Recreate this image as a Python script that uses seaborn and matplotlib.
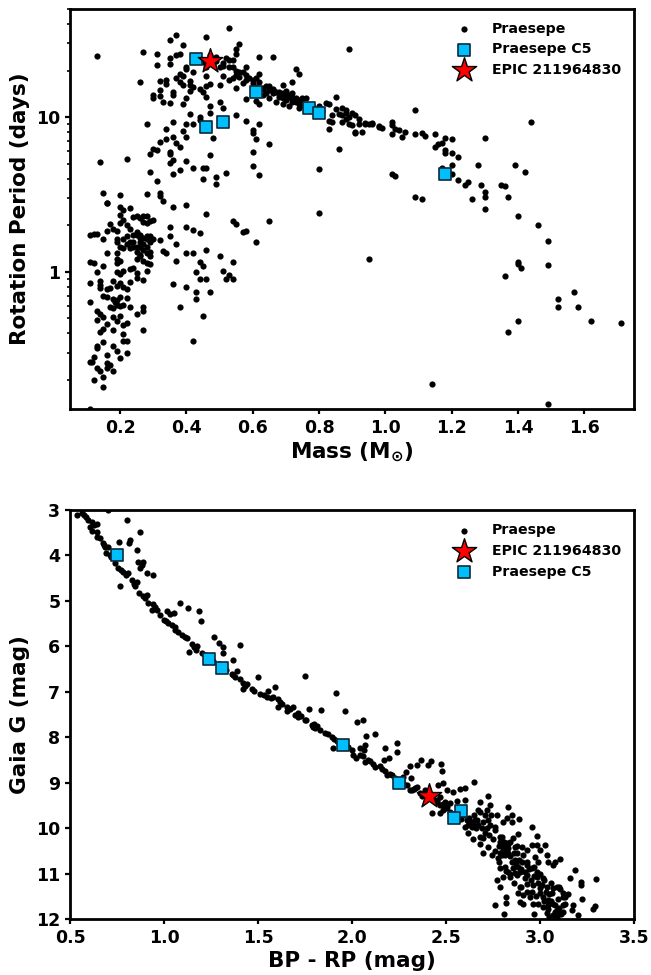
import numpy as np
import pandas as pd
import matplotlib
matplotlib.use("Agg")
import matplotlib.pyplot as plt
import seaborn as sns

# (mass in solar masses, log10 rotation period in days)
rot_low_mass = [
(.11,-.886),(.15,-.746),(.12,-.699),(.18,-.639),(.15,-.677),(.14,-.639),(.13,-.622),(.16,-.622),(.17,-.60),(.11,-.583),
(.12,-.553),(.115,-.585),(.16,-.589),(.16,-.538),(.13,-.493),(.13,-.478),(.15,-.456),(.18,-.482),(.19,-.508),(.20,-.555),
(.22,-.525),(.21,-.445),(.22,-.445),(.21,-.40),(.18,-.376),(.14,-.389),(.15,-.37),(.16,-.338),(.19,-.32),(.20,-.284),
(.18,-.293),(.21,-.344),(.22,-.331),(.13,-.31),(.15,-.293),(.14,-.271),(.13,-.252),(.17,-.23),(.18,-.234),(.19,-.213),
(.20,-.22),(.21,-.215),(.23,-.228),(.25,-.269),(.27,-.252),(.27,-.228),(.27,-.376),(.11,-.194),(.15,-.159),(.16,-.161),
(.18,-.174),(.19,-.181),(.20,-.163),(.22,-.168),(.185,-.196),(.11,-.071),(.14,-.062),(.14,-.084),(.14,-.105),(.16,-.11),
(.17,-.103),(.18,-.06),(.19,-.09),(.20,-.073),(.21,-.099),(.22,-.112),(.23,-.065),(.25,-.037),(.27,-.052),(.13,.002),
(.15,.036),(.11,.064),(.12,.058),(.19,.082),(.20,.073),(.19,.056),(.19,.002),(.20,-.013),(.21,.009),(.23,.017),
(.24,.028),(.25,-.004),(.28,.009),(.28,.06),(.29,.052),(.27,.071),(.25,.082),(.26,.11),(.25,.131),(.26,.159),
(.24,.163),(.23,.153),(.21,.153),(.20,.159),(.19,.12),(.16,.12),(.11,.239),(.12,.243),(.13,.243),(.15,.211),
(.16,.267),(.18,.275),(.19,.267),(.17,.312),(.20,.318),(.21,.335),(.22,.303),(.23,.275),(.25,.26),(.25,.239),
(.22,.232),(.21,.211),(.19,.211),(.19,.19),(.23,.196),(.24,.19),(.26,.196),(.27,.217),(.28,.232),(.29,.232),
(.30,.211),(.32,.206),(.29,.196),(.28,.163),(.29,.131),(.29,.103),(.24,.353),(.25,.363),(.27,.363),(.28,.363),
(.26,.346),(.27,.325),(.28,.314),(.29,.331),(.30,.335),(.20,.422),(.21,.40),(.20,.368),(.23,.411),(.16,.443),
(.26,.22),(.27,.18),(.28,.21),(.26,.24),(.25,.16),(.27,.14),(.24,.24),(.22,.18),(.26,.10),(.28,.12),
]
rot_mid_scatter = [
(.35,.288),(.35,.232),(.37,.18),(.33,.138),(.34,.125),(.37,.071),(.40,.12),(.42,.12),(.46,.144),(.50,.105),
(.44,.067),(.45,.036),(.54,.067),(.43,.002),(.44,-.047),(.46,-.043),(.51,.006),(.52,-.047),(.53,-.022),(.54,-.043),
(.36,-.077),(.40,-.099),(.43,-.131),(.47,-.131),(.43,-.176),(.38,-.23),(.45,-.286),(.42,-.445),(.40,.292),(.42,.271),
(.44,.252),(.54,.327),(.55,.31),(.57,.256),(.58,.264),(.61,.191),(.65,.327),(.80,.383),(.36,.417),(.40,.432),
(.46,.376),(.33,.458),
(.13,1.394),(.27,1.424),(.31,1.409),(.35,1.499),(.37,1.533),(.39,1.465),(.46,1.518),(.53,1.579),(.56,1.473),(.55,1.439),
(.55,1.411),(.35,1.385),(.37,1.404),(.38,1.407),(.31,1.334),(.35,1.346),(.40,1.325),(.40,1.31),(.42,1.293),(.46,1.269),
(.26,1.23),(.32,1.235),(.34,1.239),(.34,1.217),(.38,1.278),(.37,1.254),(.39,1.265),(.38,1.228),(.39,1.209),(.41,1.235),
(.41,1.207),(.42,1.192),(.41,1.17),(.44,1.185),(.45,1.164),(.47,1.217),(.46,1.202),(.50,1.211),(.51,1.263),(.32,1.176),
(.32,1.138),(.30,1.144),(.30,1.121),(.36,1.164),(.36,1.144),(.40,1.121),(.39,1.086),(.33,1.101),(.35,1.093),(.46,1.131),
(.47,1.071),(.50,1.101),(.51,1.062),(.47,1.028),(.41,1.02),(.44,.998),(.44,.981),(.55,1.013),(.58,.972),(.62,.959),
(.28,.955),(.36,.966),(.40,.959),(.42,.953),(.34,.921),(.39,.912),(.40,.873),(.36,.869),(.34,.856),(.32,.841),
(.37,.83),(.38,.809),(.30,.794),(.31,.787),(.29,.761),(.35,.777),(.35,.761),(.14,.71),(.22,.729),(.36,.723),
(.35,.703),(.40,.716),(.47,.753),(.42,.673),(.45,.669),(.46,.669),(.38,.656),(.36,.632),(.29,.645),(.31,.589),
(.45,.598),(.49,.613),(.52,.639),(.49,.566),(.60,.772),(.60,.682),(.62,.624),(.65,.826),(.61,.858),(.60,.916),
(.60,.899),(.48,.865),(.80,.667),(.86,.794),(.83,.925),(.62,1.387),(.66,1.387),(.58,1.327),(.73,1.308),(.74,1.278),
(.72,1.224),(.69,1.207),(.85,1.131),(.89,1.443),(.58,1.118),
(.20,.499),(.15,.51),(.16,.443),(.28,.506),(.32,.508),(.32,.493),
]
rot_sequence = [
(.55,1.189),(.53,1.239),(.54,1.256),(.55,1.271),(.57,1.293),(.58,1.271),(.57,1.222),(.59,1.25),(.60,1.239),(.62,1.278),
(.61,1.256),(.62,1.228),(.61,1.196),(.61,1.103),(.62,1.088),(.52,1.385),(.53,1.368),(.54,1.372),(.54,1.327),(.53,1.327),
(.51,1.331),(.50,1.327),(.49,1.389),(.47,1.40),(.45,1.357),(.46,1.325),(.55,1.299),(.56,1.293),(.65,1.2),(.65,1.174),
(.66,1.153),(.64,1.153),(.65,1.127),(.67,1.099),(.69,1.088),(.68,1.164),(.69,1.142),(.70,1.17),(.71,1.142),(.72,1.153),
(.73,1.121),(.74,1.11),(.72,1.099),(.71,1.071),(.70,1.11),(.69,1.121),(.75,1.127),(.76,1.121),(.74,1.056),(.75,1.078),
(.76,1.056),(.82,1.093),(.83,1.082),(.85,1.05),(.84,1.013),(.83,.976),(.84,.97),(.87,1.056),(.88,1.045),(.87,1.013),
(.88,.991),(.87,.97),(.90,1.024),(.91,1.013),(.92,.991),(.91,.906),(.91,.895),(.89,.959),(.90,.949),(.92,.959),
(.88,1.024),(.63,1.14),(.68,1.13),(.70,1.14),(.72,1.12),(.73,1.10),(.78,1.08),(.80,1.07),(.79,1.03),(.81,1.04),
(.66,1.18),(.63,1.19),(.60,1.22),(.58,1.24),(.56,1.26),(.51,1.35),(.49,1.36),(.48,1.34),(.86,1.02),(.89,1.00),
(.64,1.2),(.66,1.17),(.67,1.16),(.68,1.15),(.70,1.15),(.71,1.13),(.72,1.13),(.73,1.12),(.74,1.10),(.75,1.09),
(.63,1.185),(.66,1.174),(.69,1.153),(.70,1.131),(.74,1.088),(.76,1.045),(.94,.96),(.96,.96),(.98,.938),
]
rot_high_mass = [
(1.09,1.047),(1.44,.966),(1.30,.867),(.93,.901),(.94,.955),(.95,.953),(.96,.959),(.98,.946),(.99,.927),(1.02,.97),
(1.02,.949),(1.03,.921),(1.04,.916),(1.06,.901),(1.02,.89),(1.05,.873),(1.09,.89),(1.11,.899),(1.12,.878),(1.15,.888),
(1.18,.865),(1.20,.858),(1.17,.835),(1.16,.826),(1.15,.804),(1.18,.787),(1.18,.766),(1.20,.768),(1.22,.74),(1.20,.69),
(1.17,.673),(1.28,.688),(1.39,.693),(1.42,.643),(1.20,.63),(1.22,.596),(1.25,.583),(1.24,.561),(1.29,.561),(1.35,.559),
(1.36,.555),(1.30,.518),(1.30,.486),(1.37,.486),(1.26,.471),(1.30,.407),(1.40,.359),(1.02,.632),(1.03,.62),(1.09,.486),
(1.11,.471),(1.46,.305),(1.49,.2),(.95,.082),(1.40,.067),(1.40,.052),(1.49,.047),(1.41,.024),(1.36,-.024),(1.57,-.127),
(1.52,-.174),(1.52,-.23),(1.58,-.23),(1.62,-.32),(1.71,-.329),(1.40,-.32),(1.37,-.389),(1.14,-.723),(1.49,-.854),
]
c5_mass = [.43, .61, .77, .80, .46, .51, 1.18]
c5_log_period = [1.377, 1.164, 1.06, 1.024, .934, .968, .632]
epic_mass = [.47]
epic_log_period = [1.361]

# (BP-RP, Gaia G)
cmd_upper = [
(.539,3.11),(.562,3.06),(.575,3.11),(.585,3.16),(.598,3.22),(.615,3.26),(.642,3.31),(.607,3.37),(.615,3.455),(.646,3.48),
(.642,3.59),(.66,3.62),(.674,3.73),(.686,3.81),(.70,3.81),(.692,3.95),(.713,3.99),(.74,4.17),(.757,4.28),(.77,4.32),
(.798,4.43),(.81,4.39),(.828,4.54),(.855,4.59),(.846,4.67),(.869,4.82),(.908,4.86),(.899,4.94),(.917,5.05),(.943,5.07),
(.935,5.2),(.961,5.19),(.979,5.31),(1.0,5.41),(1.023,5.48),(1.041,5.53),(1.059,5.57),(1.076,5.69),(1.094,5.75),(1.121,5.82),
(1.147,5.95),(1.178,5.99),(1.17,6.08),(1.135,6.12),(1.204,6.14),(1.36,6.6),(1.39,6.55),(1.369,6.63),(1.404,6.72),(1.419,6.8),
(1.44,6.82),(1.466,6.93),(1.422,6.93),(1.511,7.04),(1.546,7.11),(1.555,6.99),(1.582,7.11),(1.608,7.16),(1.617,7.22),(1.608,7.33),
(1.653,7.33),(1.653,7.42),(1.688,7.34),(1.715,7.46),(1.697,7.51),(1.715,7.56),
(.70,3.01),(.805,3.23),(.873,3.48),(.759,3.70),(.819,3.66),(.812,3.73),(.855,3.89),(.864,4.14),(.89,4.15),(.881,4.21),
(.873,4.28),(.912,4.39),(.94,4.43),(.766,4.67),(1.085,5.04),(1.13,5.15),(1.188,5.22),(1.195,5.44),(1.018,5.22),(1.032,5.29),
(1.053,5.27),(1.266,5.8),(1.295,5.93),(1.316,6.01),(1.312,6.15),(1.404,5.98),(1.365,6.3),(1.498,6.68),(1.748,6.65),(1.915,7.03),
(1.59,6.9),
(.63,3.33),(.68,3.78),(.72,4.04),(.78,4.36),(.84,4.62),(.89,4.9),(.95,5.14),(1.01,5.45),(1.06,5.63),(1.11,5.79),
(1.16,6.02),(1.22,6.2),(1.26,6.33),(1.29,6.38),(1.33,6.52),(1.38,6.68),(1.43,6.87),(1.48,6.98),(1.53,7.07),(1.57,7.14),
(1.63,7.27),(1.67,7.37),(1.73,7.53),
]
cmd_middle = [
(1.771,7.37),(1.835,7.39),(1.961,7.42),(1.753,7.63),(2.028,7.66),(2.06,7.63),(2.076,7.97),(2.124,7.92),(2.177,8.23),(2.239,8.13),
(2.239,8.325),(2.196,8.45),(2.168,8.5),(2.069,8.18),(2.042,8.23),(2.063,8.28),(1.897,8.23),(2.365,8.51),(2.422,8.52),(2.406,8.61),
(2.344,8.62),(2.308,8.64),(2.473,8.58),(2.48,8.75),(2.313,8.89),(2.287,8.76),
(1.785,7.73),(1.79,7.77),(1.80,7.72),(1.803,7.8),(1.815,7.76),(1.829,7.84),(1.856,7.9),(1.87,7.94),(1.891,8.0),(1.905,8.04),
(1.918,8.08),(1.98,8.22),(1.998,8.28),(2.007,8.39),(2.021,8.46),(2.06,8.41),(2.069,8.54),(2.085,8.5),(2.095,8.52),(2.11,8.6),
(2.122,8.66),(2.149,8.63),(2.16,8.7),(2.175,8.74),(2.188,8.83),(2.2,8.8),(2.211,8.83),(2.228,8.9),(2.27,9.0),(2.29,9.05),
(2.317,9.16),(2.335,9.12),(2.37,9.29),(2.385,9.25),(2.406,9.31),(2.45,9.38),(2.485,9.47),(2.503,9.53),(1.75,7.62),(2.04,8.4),
(2.485,9.01),(2.459,9.05),(2.601,9.11),(2.574,9.14),(2.539,9.2),(2.503,9.16),(2.649,8.98),(2.721,9.29),(2.556,9.4),(2.68,9.42),
(2.734,9.49),(2.831,9.54),(2.427,9.66),(2.468,9.67),
]
cmd_cloud = [
(2.60,9.38),(2.49,9.49),(2.52,9.45),(2.45,9.42),(2.485,9.6),(2.59,9.71),(2.62,9.78),(2.65,9.71),(2.68,9.64),(2.72,9.6),
(2.707,9.71),(2.67,9.6),(2.74,9.71),(2.77,9.71),(2.805,9.86),(2.849,9.71),(2.822,9.78),(2.888,9.81),(2.849,9.86),(2.955,9.98),
(2.985,10.17),(2.884,10.14),(2.858,10.22),(2.84,10.3),(2.787,10.19),(2.76,10.04),(2.734,9.93),(2.698,9.86),(2.666,9.82),(2.645,9.93),
(2.618,9.93),(2.6,9.97),(2.618,10.1),(2.645,10.23),(2.68,10.19),(2.698,10.22),(2.68,10.34),(2.725,10.41),(2.695,10.55),(2.743,10.59),
(2.778,10.66),(2.787,10.55),(2.805,10.41),(2.822,10.33),(2.831,10.44),(2.813,10.59),(2.867,10.41),(2.902,10.42),(2.929,10.48),(2.876,10.55),
(2.867,10.7),(2.884,10.85),(2.858,10.88),(2.902,10.74),(2.929,10.81),(2.955,10.37),(2.982,10.37),(3.026,10.37),(3.0,10.48),(3.035,10.59),
(2.973,10.63),(2.991,10.74),(3.044,10.74),(3.07,10.81),(3.106,10.69),(3.08,10.74),(2.787,10.88),(2.813,10.85),(2.805,11.07),(2.84,11.07),
(2.769,11.14),(2.876,11.03),(2.929,11.03),(2.982,11.07),(3.017,11.1),(3.186,10.92),(3.159,11.1),(3.218,11.18),(3.218,11.25),(3.298,11.13),
(2.893,11.29),(2.929,11.22),(2.964,11.25),(3.0,11.32),(3.035,11.29),(3.07,11.32),(3.106,11.35),(3.124,11.51),(3.017,11.51),(3.044,11.58),
(2.991,11.66),(2.946,11.51),(2.911,11.47),(2.884,11.43),(2.929,11.4),(3.0,11.43),(3.07,11.66),(3.097,11.55),(3.133,11.66),(3.177,11.69),
(3.168,11.8),(3.221,11.55),(3.292,11.71),(3.283,11.77),(3.133,11.51),(2.76,11.69),(2.817,11.51),(2.819,11.64),(2.893,11.62),(2.911,11.67),
(2.808,11.89),(2.97,11.89),(3.035,11.87),(3.07,11.91),(3.088,11.95),(3.106,11.87),(3.124,11.84),(3.204,11.91),(3.017,11.73),(3.044,11.77),
(2.964,11.66),(2.787,11.29),(2.831,10.96),(2.867,10.99),(2.893,10.96),(2.92,10.96),(2.955,10.88),(2.982,10.96),(3.062,11.43),(3.088,11.29),
(3.124,11.43),(2.831,10.55),(2.805,10.48),(2.787,10.3),(2.76,9.97),(2.716,10.0),(2.725,9.82),(2.689,10.0),(2.672,9.93),(2.654,9.82),
(2.636,9.86),(2.61,9.82),(2.556,9.64),(2.52,9.64),(2.494,9.42),(2.468,9.31),(2.432,9.27),(2.388,9.16),(2.344,9.09),(2.308,9.16),
(2.273,8.87),
(2.80,10.2),(2.81,10.3),(2.83,10.35),(2.82,10.5),(2.80,10.6),(2.84,10.62),(2.86,10.55),(2.85,10.75),(2.87,10.8),(2.89,10.7),
(2.90,10.9),(2.92,11.1),(2.94,10.9),(2.95,11.15),(2.97,11.05),(2.99,11.2),(3.01,11.25),(3.03,11.4),(3.05,11.45),(3.06,11.6),
(3.08,11.7),(3.09,11.8),(3.10,11.75),(3.11,11.9),(3.08,11.85),(3.05,11.95),(3.12,11.7),(3.02,11.6),(3.04,11.7),(2.96,11.4),
(2.98,11.5),(2.90,11.3),(2.86,11.2),(2.84,11.0),(2.82,10.95),(2.78,10.75),(2.76,10.5),(2.78,10.4),(2.75,10.25),(2.73,10.15),
(2.71,10.1),(2.66,10.0),(2.64,9.98),(2.58,9.8),(2.56,9.75),(2.50,9.55),(2.47,9.5),(2.44,9.4),(2.40,9.22),(2.36,9.23),
(2.33,9.13),(2.93,10.75),(2.91,10.6),(2.88,10.4),(2.97,10.85),(3.0,11.0),(3.02,11.15),(3.06,11.2),(3.1,11.3),(3.15,11.45),
]
cmd_c5_color = [.75, 1.24, 1.31, 1.95, 2.25, 2.58, 2.54]
cmd_c5_g = [4.0, 6.28, 6.47, 8.17, 9.0, 9.62, 9.78]
cmd_epic_color = [2.41]
cmd_epic_g = [9.3]

sns.set_theme(style="white")
plt.rcParams.update({"font.family": "DejaVu Sans", "font.weight": "bold",
                     "axes.labelweight": "bold", "axes.linewidth": 2.0,
                     "axes.edgecolor": "black", "text.color": "black",
                     "axes.labelcolor": "black", "xtick.color": "black",
                     "ytick.color": "black", "mathtext.default": "regular"})

rot = pd.DataFrame(rot_low_mass + rot_mid_scatter + rot_sequence + rot_high_mass, columns=["mass", "logp"])
rot["period"] = 10 ** rot["logp"]
cmd = pd.DataFrame(cmd_upper + cmd_middle + cmd_cloud, columns=["color", "g"])

BLUE, RED, EDGE = "#00BFFF", "#FF0000", "#0A2A3A"
fig = plt.figure(figsize=(6.51, 9.75), dpi=100)
ax1 = fig.add_axes([70/651, 1-409/975, 564/651, 400/975])
ax2 = fig.add_axes([70/651, 1-919/975, 564/651, 409/975])

sns.scatterplot(data=rot, x="mass", y="period", ax=ax1, color="black", s=20, linewidth=0, label="Praesepe", zorder=2)
sns.scatterplot(x=c5_mass, y=10 ** np.array(c5_log_period), ax=ax1, color=BLUE, marker="s", s=85,
                edgecolor=EDGE, linewidth=1.2, label="Praesepe C5", zorder=3)
sns.scatterplot(x=epic_mass, y=10 ** np.array(epic_log_period), ax=ax1, color=RED, marker="*", s=340,
                edgecolor="black", linewidth=1.0, label="EPIC 211964830", zorder=4)
ax1.set_yscale("log")
ax1.set_xlim(0.049, 1.75)
ax1.set_ylim(0.13, 50)
ax1.set_xticks([.2, .4, .6, .8, 1.0, 1.2, 1.4, 1.6])
ax1.set_yticks([1, 10])
ax1.set_yticklabels(["1", "10"])
ax1.set_xlabel(r"Mass (M$_{\odot}$)", fontsize=15.5, fontweight="bold", labelpad=3)
ax1.set_ylabel("Rotation Period (days)", fontsize=15.5, fontweight="bold", labelpad=4)

sns.scatterplot(data=cmd, x="color", y="g", ax=ax2, color="black", s=20, linewidth=0, label="Praespe", zorder=2)
sns.scatterplot(x=cmd_epic_color, y=cmd_epic_g, ax=ax2, color=RED, marker="*", s=340,
                edgecolor="black", linewidth=1.0, label="EPIC 211964830", zorder=4)
sns.scatterplot(x=cmd_c5_color, y=cmd_c5_g, ax=ax2, color=BLUE, marker="s", s=85,
                edgecolor=EDGE, linewidth=1.2, label="Praesepe C5", zorder=3)
ax2.set_xlim(0.5, 3.5)
ax2.set_ylim(12, 3)
ax2.set_xticks([.5, 1, 1.5, 2, 2.5, 3, 3.5])
ax2.set_xticklabels(["0.5", "1.0", "1.5", "2.0", "2.5", "3.0", "3.5"])
ax2.set_yticks(range(3, 13))
ax2.set_xlabel("BP - RP (mag)", fontsize=15.5, fontweight="bold", labelpad=3)
ax2.set_ylabel("Gaia G (mag)", fontsize=15.5, fontweight="bold", labelpad=4)

for ax, anchor_y in ((ax1, 0.99), (ax2, 0.988)):
    ax.tick_params(axis="both", which="major", length=3.5, width=1.6, labelsize=12.5, left=True, bottom=True)
    ax.tick_params(axis="both", which="minor", length=2.2, width=1.2, left=True)
    for lab in ax.get_xticklabels() + ax.get_yticklabels():
        lab.set_fontweight("bold")
    ax.legend(loc="upper right", frameon=False, prop={"weight": "bold", "size": 10.2},
              borderaxespad=0.2, labelspacing=0.48, handletextpad=0.95, bbox_to_anchor=(0.992, anchor_y))

fig.savefig("out.png", dpi=100)
